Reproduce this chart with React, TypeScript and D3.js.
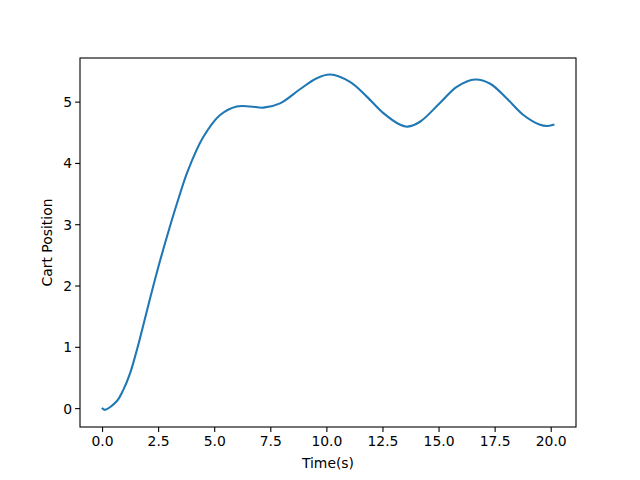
import React from "react";
import * as d3 from "d3";

const timeValues = [0, 0.11, 0.63, 0.93, 1.23, 1.45, 1.65, 2.12, 2.6, 3.01, 3.38, 3.78, 4.49, 5.24, 5.98, 6.58, 7.17, 7.91, 8.8, 9.55, 10.14, 11.03, 11.78, 12.52, 13.27, 13.6, 14.15, 15.05, 15.79, 16.61, 17.28, 18.02, 18.76, 19.5, 19.8, 20.1];
const positionValues = [0, -0.02, 0.12, 0.31, 0.58, 0.85, 1.12, 1.8, 2.46, 2.98, 3.42, 3.86, 4.43, 4.79, 4.93, 4.93, 4.91, 4.98, 5.21, 5.39, 5.45, 5.33, 5.09, 4.82, 4.63, 4.6, 4.68, 4.99, 5.25, 5.37, 5.3, 5.06, 4.79, 4.63, 4.61, 4.63];
const xTicks = [0, 2.5, 5, 7.5, 10, 12.5, 15, 17.5, 20];
const yTicks = [0, 1, 2, 3, 4, 5];

export default function App() {
  const W = 640, H = 480;
  const left = 80, right = 576, top = 58, bottom = 427;
  const x = d3.scaleLinear().domain([-1.005, 21.105]).range([left, right]);
  const y = d3.scaleLinear().domain([-0.3, 5.72]).range([bottom, top]);
  const data = timeValues.map((t, i) => [t, positionValues[i]] as [number, number]);
  const line = d3.line<[number, number]>().x(d => x(d[0])).y(d => y(d[1])).curve(d3.curveCatmullRom.alpha(0.5));
  const font = "DejaVu Sans, sans-serif";
  return (
    <svg width={W} height={H} style={{ position: "absolute", left: 0, top: 0 }} fontFamily={font}>
      <rect x={0} y={0} width={W} height={H} fill="white" />
      <path d={line(data) || ""} fill="none" stroke="#1f77b4" strokeWidth={2.08} strokeLinejoin="round" strokeLinecap="square" />
      <rect x={left} y={top} width={right - left} height={bottom - top} fill="none" stroke="black" strokeWidth={1.1} />
      {xTicks.map(t => (
        <g key={t}>
          <line x1={x(t)} x2={x(t)} y1={bottom} y2={bottom + 4.9} stroke="black" strokeWidth={1.1} />
          <text x={x(t)} y={bottom + 19} fontSize={13.9} textAnchor="middle" fill="black">{t.toFixed(1)}</text>
        </g>
      ))}
      {yTicks.map(t => (
        <g key={t}>
          <line x1={left - 4.9} x2={left} y1={y(t)} y2={y(t)} stroke="black" strokeWidth={1.1} />
          <text x={left - 8} y={y(t) + 5} fontSize={13.9} textAnchor="end" fill="black">{t}</text>
        </g>
      ))}
      <text x={(left + right) / 2} y={468} fontSize={13.9} textAnchor="middle" fill="black">Time(s)</text>
      <text transform={`translate(52,${(top + bottom) / 2}) rotate(-90)`} fontSize={13.9} textAnchor="middle" fill="black">Cart Position</text>
    </svg>
  );
}
